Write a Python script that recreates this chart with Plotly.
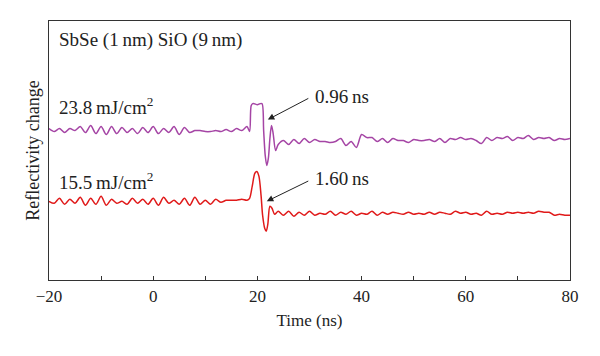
import plotly.graph_objects as go

# ---- data (arbitrary reflectivity units) ----
time_purple = [-20, -19, -18, -17, -16, -15, -14, -13, -12, -11, -10, -9, -8, -7, -6, -5, -4, -3, -2, -1,
               0, 1, 2, 3, 4, 5, 6, 7, 8, 9, 10, 11, 12, 13, 14, 15, 16, 17,
               18, 18.5, 18.8, 19.1, 19.4, 20, 20.5, 20.9, 21.2, 21.5, 21.8, 22.1, 22.4, 22.7, 23.0, 23.5, 24,
               25, 26, 27, 28, 29, 30, 31, 32, 33, 34, 35, 36, 37, 38, 39, 40, 41, 42, 43, 44, 45, 46, 47, 48, 49,
               50, 51, 52, 53, 54, 55, 56, 57, 58, 59, 60, 61, 62, 63, 64, 65, 66, 67, 68, 69,
               70, 71, 72, 73, 74, 75, 76, 77, 78, 79, 80]
refl_purple = [15.2, 14.9, 15.2, 14.8, 15.2, 15.0, 15.4, 14.8, 15.5, 14.7, 15.4, 14.6, 15.4, 14.7, 15.3, 14.8, 15.2, 14.7, 15.3, 14.8,
               15.4, 14.7, 15.2, 14.8, 15.4, 14.6, 15.3, 14.8, 15.0, 15.0, 14.9, 14.9, 15.0, 14.9, 15.1, 14.9, 15.2, 15.0,
               15.4, 14.9, 17.5, 17.7, 17.7, 17.6, 17.7, 17.7, 15.0, 12.5, 11.5, 12.2, 14.2, 15.5, 14.8, 13.0, 13.6,
               14.0, 13.6, 14.1, 13.7, 14.2, 13.8, 14.1, 13.9, 13.9, 13.8, 13.9, 14.2, 13.5, 13.9, 13.3, 14.6, 14.3, 14.3, 13.9, 14.2, 13.8, 14.2, 14.0, 14.0, 13.8,
               14.1, 14.0, 14.0, 14.1, 13.9, 14.2, 13.8, 14.2, 14.1, 14.3, 14.1, 14.2, 14.0, 13.7, 14.3, 14.0, 14.3, 14.2, 14.4, 14.0,
               14.3, 14.2, 14.5, 14.1, 14.3, 14.2, 14.3, 14.0, 14.2, 14.1, 14.2]

time_red = [-20, -19, -18, -17, -16, -15, -14, -13, -12, -11, -10, -9, -8, -7, -6, -5, -4, -3, -2, -1,
            0, 1, 2, 3, 4, 5, 6, 7, 8, 9, 10, 11, 12, 13, 14, 15, 16, 17,
            18, 18.5, 19.0, 19.5, 19.9, 20.3, 20.7, 21.0, 21.4, 21.7, 22.0, 22.4, 22.8, 23.3, 24,
            25, 26, 27, 28, 29, 30, 31, 32, 33, 34, 35, 36, 37, 38, 39, 40, 41, 42, 43, 44, 45, 46, 47, 48, 49,
            50, 51, 52, 53, 54, 55, 56, 57, 58, 59, 60, 61, 62, 63, 64, 65, 66, 67, 68, 69,
            70, 71, 72, 73, 74, 75, 76, 77, 78, 79, 80]
refl_red = [7.9, 7.7, 8.2, 7.6, 8.1, 7.7, 8.3, 7.5, 8.2, 7.6, 8.4, 7.5, 8.1, 7.7, 7.9, 7.6, 8.2, 7.7, 8.1, 7.6,
            8.2, 7.5, 8.3, 7.7, 8.0, 7.6, 8.2, 7.5, 8.3, 7.6, 8.0, 7.6, 8.1, 7.8, 8.0, 8.0, 8.0, 8.1,
            8.0, 8.2, 9.4, 10.7, 10.9, 10.4, 8.5, 6.5, 5.2, 4.9, 5.6, 7.4, 7.2, 6.6, 6.9,
            6.5, 6.9, 6.4, 6.8, 6.5, 6.9, 6.5, 6.7, 6.6, 6.9, 6.5, 6.8, 6.6, 6.9, 6.5, 6.7, 6.6, 6.9, 6.5, 6.8, 6.6, 6.8, 6.7, 6.6, 6.8,
            6.6, 6.7, 6.6, 6.8, 6.6, 6.8, 6.7, 6.6, 6.9, 6.7, 6.8, 6.6, 6.7, 6.5, 6.9, 6.6, 6.7, 6.6, 6.8, 6.7,
            6.8, 6.7, 6.8, 6.7, 6.9, 6.8, 6.8, 6.5, 6.6, 6.5, 6.5]

x_ticks = [-20, 0, 20, 40, 60, 80]
x_tick_text = ["\u221220", "0", "20", "40", "60", "80"]

purple_color = "#a545a5"
red_color = "#e01a1a"
serif = "Liberation Serif"
ink = "#222222"

fig = go.Figure()
fig.add_trace(go.Scatter(x=time_purple, y=refl_purple, mode="lines",
                         line=dict(color=purple_color, width=1.5, shape="spline", smoothing=0.8),
                         showlegend=False))
fig.add_trace(go.Scatter(x=time_red, y=refl_red, mode="lines",
                         line=dict(color=red_color, width=1.5, shape="spline", smoothing=0.8),
                         showlegend=False))

ann_font = dict(family=serif, size=19, color=ink)
fig.add_annotation(x=0.015, y=0.927, xref="paper", yref="paper", xanchor="left", yanchor="middle",
                   text="SbSe (1\u2009nm) SiO (9\u2009nm)", showarrow=False, font=ann_font)
fig.add_annotation(x=0.015, y=0.672, xref="paper", yref="paper", xanchor="left", yanchor="middle",
                   text="23.8\u2009mJ/cm<sup>2</sup>", showarrow=False, font=ann_font)
fig.add_annotation(x=0.015, y=0.382, xref="paper", yref="paper", xanchor="left", yanchor="middle",
                   text="15.5\u2009mJ/cm<sup>2</sup>", showarrow=False, font=ann_font)
fig.add_annotation(x=30.7, y=18.4, xanchor="left", yanchor="middle",
                   text="0.96\u2009ns", showarrow=False, font=ann_font)
fig.add_annotation(x=30.7, y=10.2, xanchor="left", yanchor="middle",
                   text="1.60\u2009ns", showarrow=False, font=ann_font)
# arrows
fig.add_annotation(x=22.0, y=16.1, ax=42, ay=-22, text="", showarrow=True,
                   arrowhead=2, arrowsize=1.3, arrowwidth=1, arrowcolor=ink)
fig.add_annotation(x=21.8, y=7.9, ax=43, ay=-21, text="", showarrow=True,
                   arrowhead=2, arrowsize=1.3, arrowwidth=1, arrowcolor=ink)

fig.update_layout(
    width=600, height=356,
    margin=dict(l=49, r=30, t=21, b=76),
    paper_bgcolor="white", plot_bgcolor="white",
    font=dict(family=serif, size=17, color=ink),
    xaxis=dict(range=[-20, 80], tickvals=x_ticks, ticktext=x_tick_text,
               showgrid=False, zeroline=False, showline=True, linecolor="#333333", linewidth=1.2,
               mirror=True, ticks="inside", ticklen=4, tickcolor="#333333",
               minor=dict(ticks="inside", ticklen=4, tickcolor="#333333", dtick=10, tick0=0),
               ticklabelstandoff=0,
               title=dict(text="Time (ns)", font=dict(family=serif, size=17, color=ink), standoff=9),
               tickfont=dict(family=serif, size=17, color=ink)),
    yaxis=dict(range=[0, 26], showticklabels=False, ticks="", showgrid=False, zeroline=False,
               showline=True, linecolor="#333333", linewidth=1.2, mirror=True,
               title=dict(text="Reflectivity change", font=dict(family=serif, size=18, color=ink), standoff=3)),
)

fig.write_html("out.html", config={"displayModeBar": False},
               post_script="document.body.style.margin='0';")
